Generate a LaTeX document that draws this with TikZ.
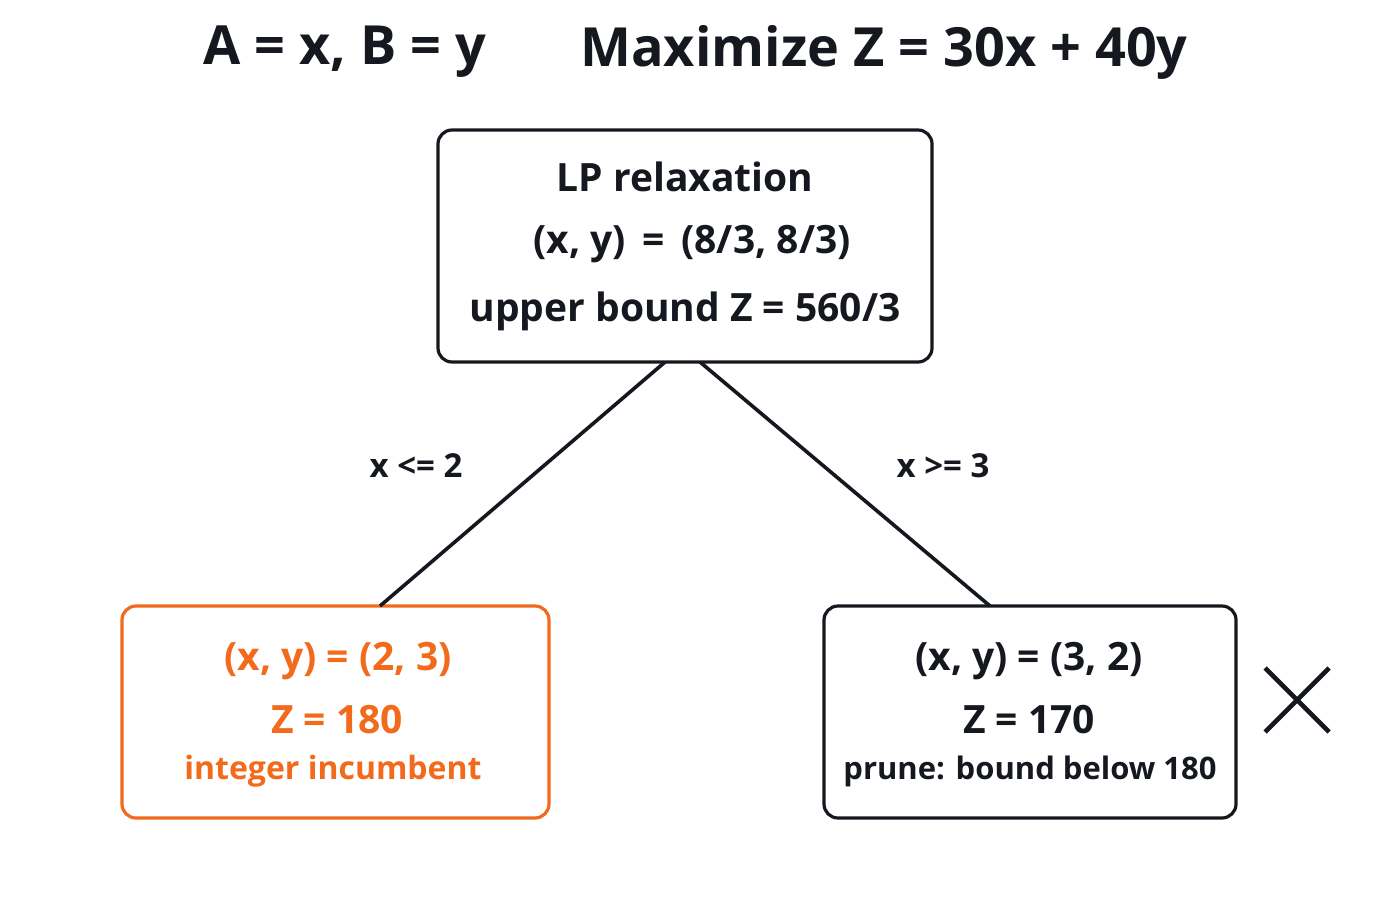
\documentclass[tikz,border=0pt]{standalone}
\usepackage{fontspec}
\setmainfont{Open Sans}
\usetikzlibrary{calc}
\definecolor{org}{HTML}{F26A1B}
\definecolor{ink}{HTML}{15191F}
\begin{document}
\begin{tikzpicture}[x=0.5pt,y=-0.5pt,
  box/.style={draw=ink,line width=1.6pt,rounded corners=7pt,inner sep=0pt},
  edge/.style={draw=ink,line width=1.8pt},
  big/.style={font=\fontsize{19.5}{24}\selectfont\bfseries,text=ink},
  mid/.style={font=\fontsize{16}{20}\selectfont\bfseries,text=ink},
  lab/.style={font=\fontsize{16.5}{20}\selectfont\bfseries,text=ink}]
\useasboundingbox (0,0) rectangle (1400,900);
\node[font=\fontsize{27}{30}\selectfont\bfseries,text=ink] (t1) at (345,52) {A = x, B = y};
\node[font=\fontsize{27}{30}\selectfont\bfseries,text=ink] (t2) at (884,52) {Maximize Z = 30x + 40y};
\node[box,minimum width=247pt,minimum height=116pt] (top) at (685,246) {};
\node[big] (a1) at (685,177) {LP relaxation};
\node[big] (a2) at (692,244) {(x, y) \,=\, (8/3, 8/3)};
\node[big] (a3) at (685,311) {upper bound Z = 560/3};
\node[box,draw=org,minimum width=213.5pt,minimum height=106pt] (L) at (335.5,712) {};
\node[big,text=org] (b1) at (338,661) {(x, y) = (2, 3)};
\node[big,text=org] (b2) at (337,720) {Z = 180};
\node[mid,text=org] (b3) at (333,771) {integer incumbent};
\node[box,minimum width=206pt,minimum height=106pt] (R) at (1030,712) {};
\node[big] (c1) at (1029,661) {(x, y) = (3, 2)};
\node[big] (c2) at (1029,720) {Z = 170};
\node[mid,font=\fontsize{15.5}{20}\selectfont\bfseries] (c3) at (1030,771) {prune: bound below 180};
\coordinate (e1) at (665,362); \coordinate (e2) at (380,606);
\coordinate (e3) at (700,362); \coordinate (e4) at (990,606);
\draw[edge] (e1) -- (e2);
\draw[edge] (e3) -- (e4);
\node[lab] (l1) at (416,466) {x <= 2};
\node[lab] (l2) at (943,466) {x >= 3};
\coordinate (x1) at (1265,668); \coordinate (x2) at (1329,732);
\coordinate (x3) at (1329,668); \coordinate (x4) at (1265,732);
\draw[edge,line width=2.3pt] (x1) -- (x2);
\draw[edge,line width=2.3pt] (x3) -- (x4);
\end{tikzpicture}
\end{document}
